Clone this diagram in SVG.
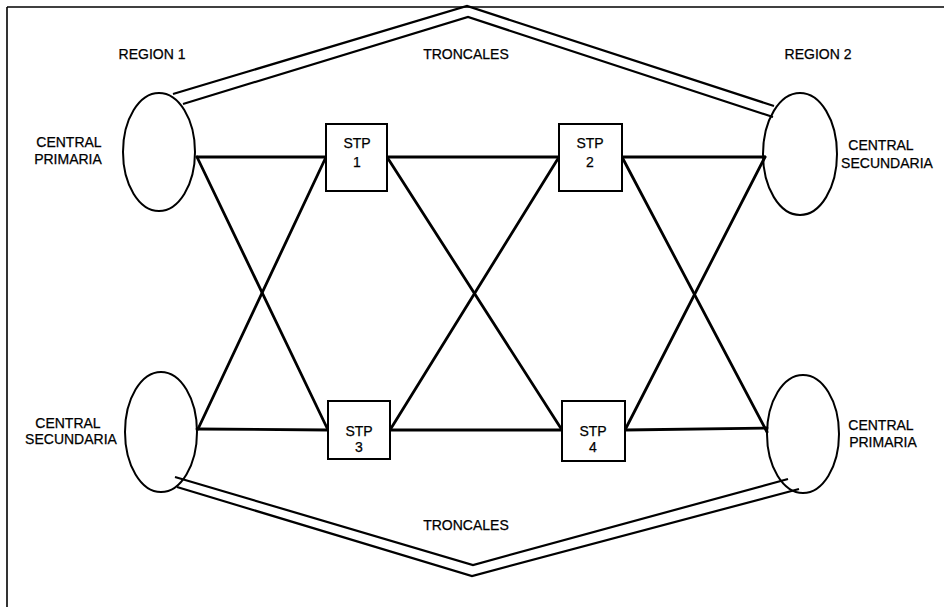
<svg xmlns="http://www.w3.org/2000/svg" width="944" height="607" viewBox="0 0 944 607">
<style>
.t{font-family:"Liberation Sans",Arial,sans-serif;font-size:14px;fill:#000;text-anchor:middle;stroke:#000;stroke-width:0.25}
.node{fill:#fff;stroke:#000;stroke-width:2}
.link{stroke:#000;stroke-width:2.8;fill:none;stroke-linecap:round}
.trunk{stroke:#000;stroke-width:2.2;fill:none;stroke-linejoin:miter}
.frame{stroke:#000;stroke-width:1.6;fill:none}
</style>
<rect width="944" height="607" fill="#fff"/>
<g id="frame">
<line class="frame" x1="7" y1="7" x2="944" y2="7"/>
<line class="frame" x1="7" y1="7" x2="7" y2="607"/>
</g>
<g id="labels">
<text class="t" x="152" y="59">REGION 1</text>
<text class="t" x="466" y="59">TRONCALES</text>
<text class="t" x="818" y="59">REGION 2</text>
<text class="t" x="466" y="530">TRONCALES</text>
</g>
<g id="connectors">
<polyline class="trunk" points="173,94 467,6 774,106"/>
<polyline class="trunk" points="183,104 468,17 773,117"/>
<polyline class="trunk" points="175,477 473,565 788,479"/>
<polyline class="trunk" points="177,487 472,576 799,489"/>
<line class="link" x1="197" y1="157" x2="326" y2="157"/>
<line class="link" x1="387" y1="157" x2="559" y2="157"/>
<line class="link" x1="622" y1="157" x2="765" y2="157"/>
<line class="link" x1="197" y1="429" x2="328" y2="430"/>
<line class="link" x1="390" y1="430" x2="562" y2="430"/>
<line class="link" x1="625" y1="430" x2="767" y2="428"/>
<line class="link" x1="197" y1="157" x2="328" y2="430"/>
<line class="link" x1="326" y1="157" x2="198" y2="429"/>
<line class="link" x1="387" y1="157" x2="562" y2="430"/>
<line class="link" x1="559" y1="157" x2="390" y2="430"/>
<line class="link" x1="622" y1="157" x2="767" y2="432"/>
<line class="link" x1="765" y1="157" x2="625" y2="430"/>
</g>
<g id="central-primaria-r1">
<ellipse class="node" cx="159" cy="152" rx="36" ry="59" fill="none" style="fill:none"/>
<text class="t" x="69" y="147">CENTRAL</text>
<text class="t" x="68" y="164">PRIMARIA</text>
</g>
<g id="central-secundaria-r1">
<ellipse class="node" cx="161" cy="432" rx="36" ry="60" style="fill:none"/>
<text class="t" x="68" y="428">CENTRAL</text>
<text class="t" x="71" y="444">SECUNDARIA</text>
</g>
<g id="central-secundaria-r2">
<ellipse class="node" cx="800" cy="154" rx="37" ry="61" style="fill:none"/>
<text class="t" x="881" y="150">CENTRAL</text>
<text class="t" x="887" y="168">SECUNDARIA</text>
</g>
<g id="central-primaria-r2">
<ellipse class="node" cx="803" cy="434" rx="36" ry="59" style="fill:none"/>
<text class="t" x="881" y="430">CENTRAL</text>
<text class="t" x="883" y="447">PRIMARIA</text>
</g>
<g id="stp1">
<rect class="node" x="326" y="124" width="61" height="67"/>
<text class="t" x="357" y="148">STP</text>
<text class="t" x="357" y="167">1</text>
</g>
<g id="stp2">
<rect class="node" x="559" y="124" width="63" height="67"/>
<text class="t" x="590" y="148">STP</text>
<text class="t" x="590" y="167">2</text>
</g>
<g id="stp3">
<rect class="node" x="328" y="401" width="62" height="58"/>
<text class="t" x="359" y="436">STP</text>
<text class="t" x="359" y="452">3</text>
</g>
<g id="stp4">
<rect class="node" x="562" y="401" width="63" height="60"/>
<text class="t" x="593" y="436">STP</text>
<text class="t" x="593" y="452">4</text>
</g>
</svg>
